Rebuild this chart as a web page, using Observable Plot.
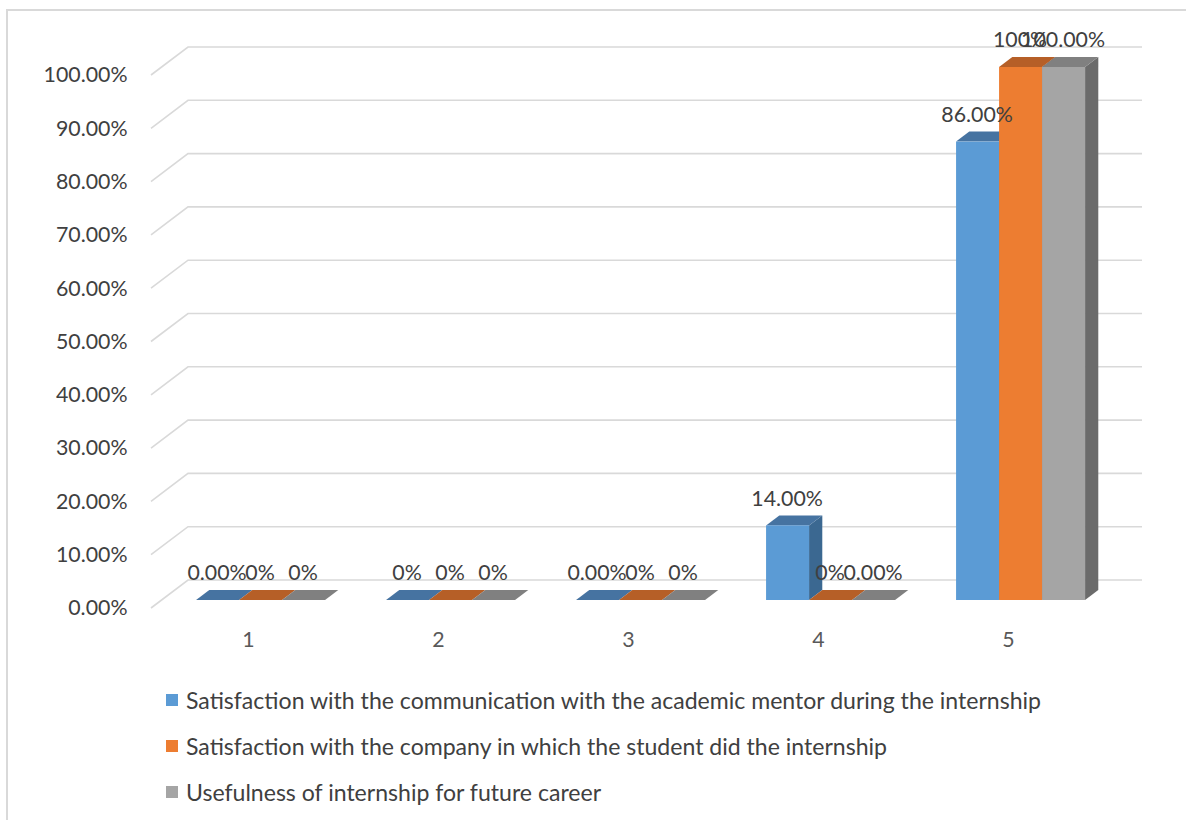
<!DOCTYPE html>
<html><head><meta charset="utf-8">
<script src="https://cdn.jsdelivr.net/npm/d3@7"></script>
<script src="https://cdn.jsdelivr.net/npm/@observablehq/plot@0.6"></script>
<style>
html,body{margin:0;padding:0;background:#fff;overflow:hidden;width:1186px;height:820px;}
#frame{position:absolute;left:6px;top:9px;width:1300px;height:900px;border-top:2px solid #d9d9d9;border-left:2px solid #d9d9d9;box-sizing:border-box;}
#chart{position:absolute;left:0;top:0;}
#legend{position:absolute;left:166px;top:0;}
.row{position:absolute;left:0;height:30px;display:flex;align-items:center;white-space:nowrap;}
.sw{width:12px;height:12px;margin-right:8px;flex:none;}
</style></head><body>
<div id="frame"></div><div id="chart"></div><div id="legend"></div>
<script>
// ---- data ----
const categories = ["1", "2", "3", "4", "5"];
const seriesNames = [
  "Satisfaction with the communication with the academic mentor during the internship",
  "Satisfaction with the company in which the student did the internship",
  "Usefulness of internship for future career"
];
const mentorValues  = [0, 0, 0, 0.14, 0.86];
const companyValues = [0, 0, 0, 0, 1.00];
const careerValues  = [0, 0, 0, 0, 1.00];
const mentorLabels  = ["0.00%", "0%", "0.00%", "14.00%", "86.00%"];
const companyLabels = ["0%", "0%", "0%", "0%", "100%"];
const careerLabels  = ["0%", "0%", "0%", "0.00%", "100.00%"];
const yTicks = [0, 0.1, 0.2, 0.3, 0.4, 0.5, 0.6, 0.7, 0.8, 0.9, 1.0];

// ---- styles ----
const frontColors = ["#5B9BD5", "#ED7D31", "#A5A5A5"];
const topColors   = ["#4673A1", "#B65F27", "#808080"];
const sideColors  = ["#3B6891", "#A0521F", "#6B6B6B"];
const FONT = "Lato, 'Open Sans', sans-serif";

const seriesValues = [mentorValues, companyValues, careerValues];
const seriesLabels = [mentorLabels, companyLabels, careerLabels];
const data = categories.flatMap((c, i) => seriesNames.map((s, j) => ({
  group: c, series: s, si: j, value: seriesValues[j][i], label: seriesLabels[j][i]
})));

// fit font sizes to the reference widths
function fit(text, target) {
  const ctx = document.createElement("canvas").getContext("2d");
  ctx.font = "100px " + FONT;
  return 100 * target / ctx.measureText(text).width;
}
const tickFs = fit("100.00%", 84);
const legendFs = fit(seriesNames[0], 857);

// ---- geometry ----
const W = 1186, H = 665;
const mL = 151, mR = W - 1105, mT = 75, mB = H - 608;
const DX = 37, DY = 28;            // full depth of the floor
const FX = DX * 8 / 28, FY = 8;    // bar front plane offset
const TX = DX * 10 / 28, TY = 10;  // bar depth
const BARW = 43;
const SHIFT = 2;

function bw(scales, dims) {
  const b = scales.x.bandwidth;
  if (typeof b === "function") return b();
  if (typeof b === "number") return b;
  return (dims.width - dims.marginLeft - dims.marginRight) / categories.length;
}

function gridMark(index, scales, values, dims) {
  const g = d3.create("svg:g").attr("fill", "none").attr("stroke", "#D9D9D9").attr("stroke-width", 1.6);
  const xl = dims.marginLeft, xr = dims.width - dims.marginRight;
  for (const t of yTicks) {
    const y = scales.y(t);
    g.append("path").attr("d", `M${xl},${y}L${xl + DX},${y - DY}L${xr + DX},${y - DY}`);
  }
  return g.node();
}

function barsMark(index, scales, values, dims) {
  const g = d3.create("svg:g");
  const b = bw(scales, dims);
  for (const d of data) {
    const x0 = scales.x(d.group) + (b - 3 * BARW) / 2 + d.si * BARW + FX + SHIFT;
    const yb = scales.y(0) - FY;
    const yt = scales.y(d.value) - FY;
    const x1 = x0 + BARW;
    if (d.value > 0) {
      g.append("path").attr("fill", sideColors[d.si])
        .attr("d", `M${x1},${yb}L${x1 + TX},${yb - TY}L${x1 + TX},${yt - TY}L${x1},${yt}Z`);
    }
    g.append("path").attr("fill", topColors[d.si])
      .attr("d", `M${x0},${yt}L${x0 + TX},${yt - TY}L${x1 + TX},${yt - TY}L${x1},${yt}Z`);
    if (d.value > 0) {
      g.append("rect").attr("fill", frontColors[d.si])
        .attr("x", x0).attr("y", yt).attr("width", BARW).attr("height", yb - yt);
    }
  }
  return g.node();
}

const labelMarks = [0, 1, 2].map(j => Plot.text(data.filter(d => d.si === j), {
  x: "group", y: "value", text: "label",
  dx: (j - 1) * BARW + FX + SHIFT - 1, dy: -FY - 27,
  fill: "#404040", fontSize: tickFs, fontFamily: FONT
}));

const chart = Plot.plot({
  width: W, height: H,
  marginLeft: mL, marginRight: mR, marginTop: mT, marginBottom: mB,
  style: {background: "transparent", overflow: "visible", fontFamily: FONT},
  x: {type: "band", domain: categories, padding: 0},
  y: {domain: [0, 1]},
  marks: [
    gridMark,
    barsMark,
    ...labelMarks,
    Plot.axisY(yTicks, {tickSize: 0, tickPadding: 24, tickFormat: d3.format(".2%"),
      fontSize: tickFs, fill: "#404040", label: null}),
    Plot.axisX({tickSize: 0, tickPadding: 23, fontSize: tickFs, fill: "#595959", label: null})
  ]
});
document.getElementById("chart").appendChild(chart);

// ---- legend ----
const legend = d3.select("#legend");
const rowCenters = [700, 746, 792];
seriesNames.forEach((name, j) => {
  const row = legend.append("div").attr("class", "row")
    .style("top", (rowCenters[j] - 15) + "px");
  row.append("div").attr("class", "sw").style("background", frontColors[j]);
  row.append("span").text(name)
    .style("font-family", FONT).style("font-size", legendFs + "px").style("color", "#404040");
});
</script>
</body></html>
